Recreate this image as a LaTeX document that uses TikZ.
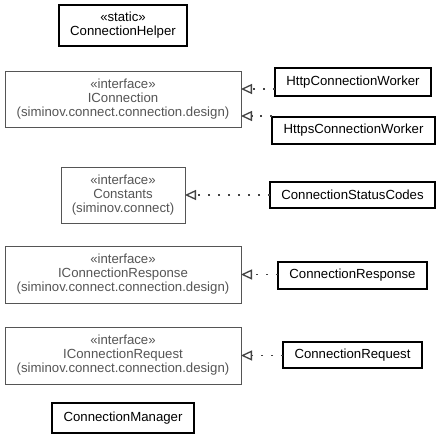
\documentclass[tikz,border=0pt]{standalone}
\usepackage{fontspec}
\setmainfont{Liberation Sans}
\usetikzlibrary{arrows.meta}
\definecolor{ifborder}{HTML}{555555}
\definecolor{iftext}{HTML}{555555}
\definecolor{edgecol}{HTML}{444444}
\begin{document}
\begin{tikzpicture}
\tikzset{
  umlbox/.style={font=\fontsize{13.2}{14}\selectfont, inner sep=0pt, outer sep=0pt, align=center, rectangle},
  cls/.style={umlbox, text=black},
  iface/.style={umlbox, text=iftext},
  clsborder/.style={draw=black, line width=1.2pt},
  ifborder/.style={draw=ifborder, line width=1pt},
  realize/.style={draw=edgecol, line width=1.3pt, dash pattern=on 1.6pt off 8.4pt,
    -{Triangle[open, length=11pt, width=10pt, line width=1.3pt]}}}
\path[use as bounding box, fill=white] (0pt,0pt) rectangle (441pt,-439pt);
\node[cls, minimum width=128pt, minimum height=41pt] (helper) at (123pt,-25.5pt) {«static»\\ConnectionHelper};
\node[iface, minimum width=236pt, minimum height=56pt] (iconn) at (123pt,-99pt) {«interface»\\IConnection\\(siminov.connect.connection.design)};
\node[cls, minimum width=156pt, minimum height=28pt] (http) at (353pt,-82pt) {HttpConnectionWorker};
\node[cls, minimum width=163pt, minimum height=27pt] (https) at (353.5pt,-130.5pt) {HttpsConnectionWorker};
\node[iface, minimum width=124pt, minimum height=56pt] (const) at (123pt,-195pt) {«interface»\\Constants\\(siminov.connect)};
\node[cls, minimum width=165pt, minimum height=26pt] (csc) at (352.5pt,-195pt) {ConnectionStatusCodes};
\node[iface, minimum width=236pt, minimum height=57pt] (iresp) at (123pt,-274.5pt) {«interface»\\IConnectionResponse\\(siminov.connect.connection.design)};
\node[cls, minimum width=149pt, minimum height=27pt] (resp) at (352.5pt,-275.5pt) {ConnectionResponse};
\node[iface, minimum width=236pt, minimum height=57pt] (ireq) at (123pt,-355.5pt) {«interface»\\IConnectionRequest\\(siminov.connect.connection.design)};
\node[cls, minimum width=139pt, minimum height=26pt] (req) at (352.5pt,-355pt) {ConnectionRequest};
\node[cls, minimum width=142pt, minimum height=30pt] (mgr) at (123pt,-418pt) {ConnectionManager};
\foreach \n in {helper,http,https,csc,resp,req,mgr}
  \draw[clsborder] (\n.south west) rectangle (\n.north east);
\foreach \n in {iconn,const,iresp,ireq}
  \draw[ifborder] (\n.south west) rectangle (\n.north east);
\coordinate (t1) at ([yshift=10pt]iconn.east);
\coordinate (t2) at ([yshift=-17pt]iconn.east);
\draw[realize] (http.west |- t1) -- (t1);
\draw[realize] (https.west |- t2) -- (t2);
\draw[realize] (csc.west) -- (const.east);
\draw[realize] (resp.west |- iresp.east) -- (iresp.east);
\draw[realize] (req.west |- ireq.east) -- (ireq.east);
\end{tikzpicture}
\end{document}
